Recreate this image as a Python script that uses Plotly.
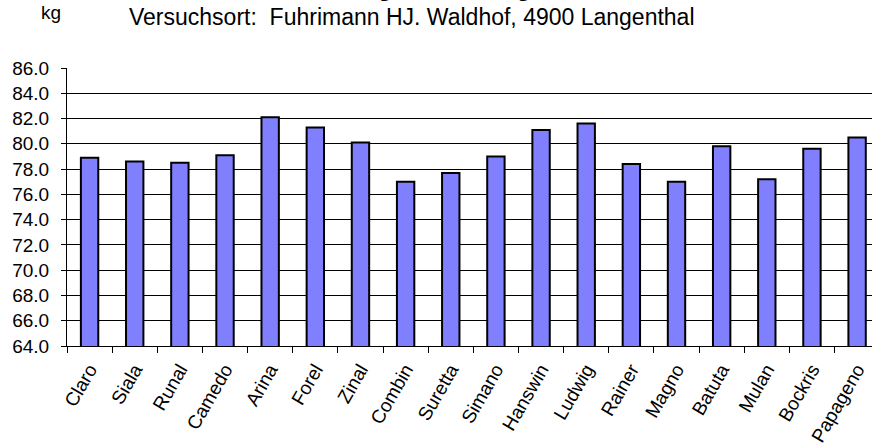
import plotly.graph_objects as go

categories = ["Claro", "Siala", "Runal", "Camedo", "Arina", "Forel", "Zinal", "Combin",
              "Suretta", "Simano", "Hanswin", "Ludwig", "Rainer", "Magno", "Batuta",
              "Mulan", "Bockris", "Papageno"]
values = [78.9, 78.6, 78.5, 79.1, 82.1, 81.3, 80.1, 77.0, 77.7, 79.0, 81.1, 81.6,
          78.4, 77.0, 79.8, 77.2, 79.6, 80.5]
y_ticks = [64, 66, 68, 70, 72, 74, 76, 78, 80, 82, 84, 86]

W, H = 872, 446
L, R, T, B = 67, 0, 68, 100
pw = W - L - R
ph = H - T - B

def px_x(px):
    return (px - L) / pw

def px_y(py):
    return (H - B - py) / ph

FONT = "Arial, Liberation Sans, sans-serif"

fig = go.Figure()
fig.add_trace(go.Bar(
    x=categories, y=values,
    marker=dict(color="#8080FF", line=dict(color="#000000", width=2)),
))

fig.update_layout(
    width=W, height=H,
    margin=dict(l=L, r=R, t=T, b=B, pad=0, autoexpand=False),
    paper_bgcolor="white", plot_bgcolor="white",
    showlegend=False,
    bargap=0.615,
    font=dict(family=FONT, color="#000000", size=19),
)
fig.update_xaxes(
    range=[-0.5, 17.33],
    tickangle=-60,
    tickson="boundaries",
    ticks="outside", ticklen=6, tickcolor="#000000", tickwidth=1,
    showline=True, linecolor="#000000", linewidth=1,
    showgrid=False, automargin=False,
    ticklabelstandoff=4,
    tickfont=dict(size=19, family=FONT),
)
fig.update_yaxes(
    range=[64, 86],
    tickvals=y_ticks,
    ticktext=[f"{v:.1f}" for v in y_ticks],
    ticks="outside", ticklen=5, tickcolor="#000000", tickwidth=1,
    showline=True, linecolor="#000000", linewidth=1,
    showgrid=True, gridcolor="#000000", gridwidth=1,
    zeroline=False, automargin=False,
    ticklabelstandoff=8,
    tickfont=dict(size=19, family=FONT),
)

fig.add_annotation(text="kg", xref="paper", yref="paper",
                   x=px_x(39), y=px_y(13), xanchor="left", yanchor="middle",
                   showarrow=False, font=dict(size=19, family=FONT))
fig.add_annotation(text="Versuchsort:  Fuhrimann HJ. Waldhof, 4900 Langenthal",
                   xref="paper", yref="paper",
                   x=px_x(127), y=px_y(17), xanchor="left", yanchor="middle",
                   showarrow=False, font=dict(size=23, family=FONT))
fig.add_annotation(text="<b>Hektolitergewicht Langenthal</b>",
                   xref="paper", yref="paper",
                   x=px_x(434), y=px_y(-13), xanchor="center", yanchor="middle",
                   showarrow=False, font=dict(size=24, family=FONT))

fig.write_html("out.html", config={"displayModeBar": False},
               post_script="document.body.style.margin='0';document.body.style.overflow='hidden';")
